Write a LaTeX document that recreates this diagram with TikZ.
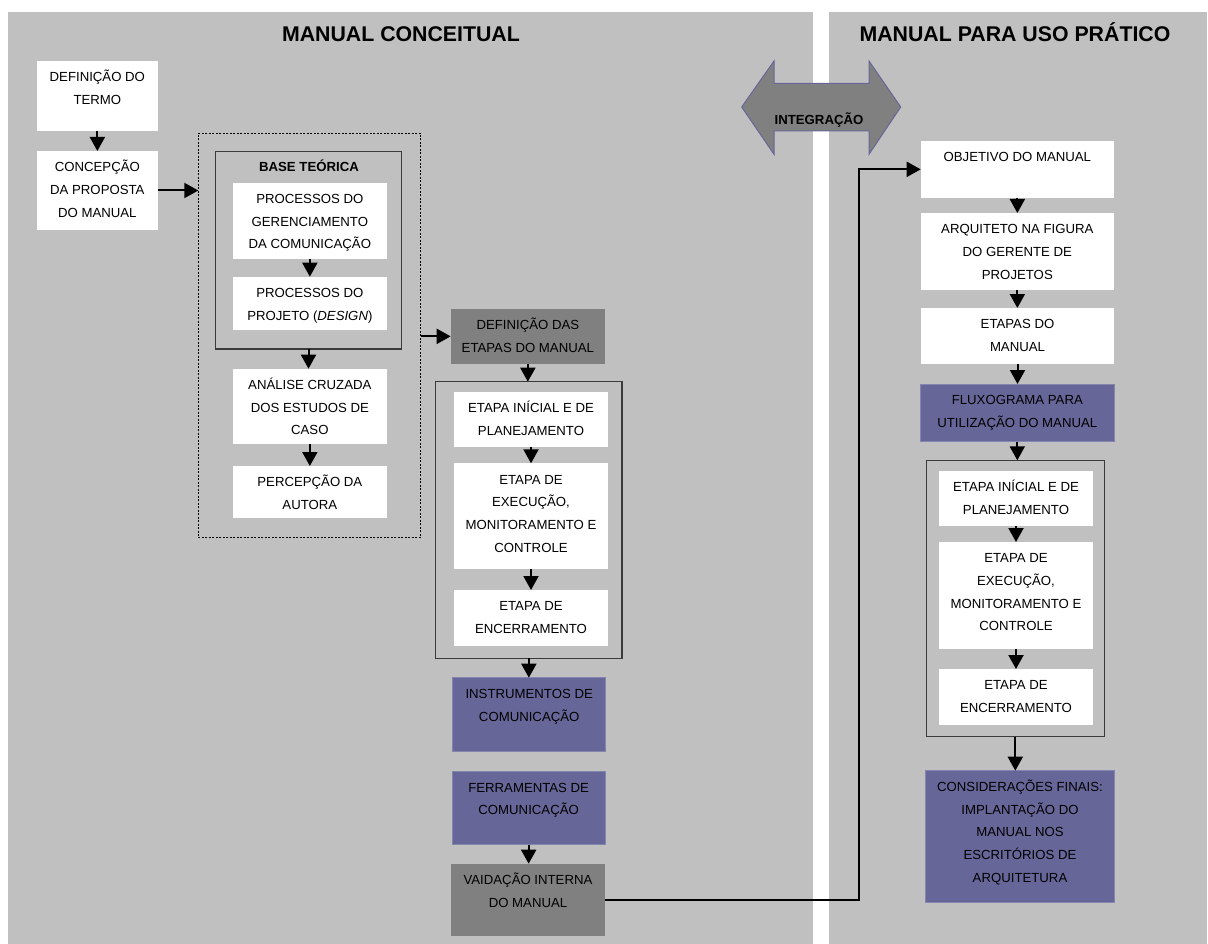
\documentclass[tikz,border=0pt]{standalone}
\usepackage{fontspec}
\setmainfont{Liberation Sans}
\usetikzlibrary{arrows.meta}
\definecolor{panel}{HTML}{C0C0C0}
\definecolor{darkbox}{HTML}{808080}
\definecolor{purplebox}{HTML}{666699}
\definecolor{purpleline}{HTML}{8585B0}
\definecolor{frameline}{HTML}{3A3A3A}
% text block of a box: fixed width and height, lines hung from the top
\newcommand{\bxt}[3]{\parbox[c][#2][t]{#1}{\fontsize{13.2pt}{22.7pt}\selectfont\centering\rule{0pt}{20.7pt}#3\par}}
\begin{document}
\begin{tikzpicture}[x=1pt,y=-1pt,
  every node/.style={inner sep=0pt,outer sep=0pt},
  wbox/.style={fill=white,anchor=north west},
  gbox/.style={fill=darkbox,anchor=north west},
  pbox/.style={fill=purplebox,draw=purpleline,line width=0.8pt,anchor=north west},
  frame/.style={draw=frameline,line width=1.2pt,anchor=north west},
  dotframe/.style={draw=black,line width=0.9pt,dash pattern=on 2pt off 1.5pt,anchor=north west},
  arr/.style={line width=2pt,-{Triangle[width=15pt,length=14pt]}},
  title/.style={font=\fontsize{21.3pt}{24pt}\selectfont\bfseries,anchor=base},
  smallbold/.style={font=\fontsize{13.2pt}{15pt}\selectfont\bfseries,anchor=base}]
\useasboundingbox (0,0) rectangle (1208,944);
\fill[white] (0,0) rectangle (1208,944);

% the two panels
\fill[panel] (7.5,12) rectangle (813,944);
\fill[panel] (829,12) rectangle (1207,944);
\node[title] (tl) at (401,42) {MANUAL CONCEITUAL};
\node[title] (tr) at (1015,42) {MANUAL PARA USO PRÁTICO};

% integration arrow across the gap
\filldraw[fill=darkbox,draw=purplebox,line width=1pt]
  (741.7,107) -- (774,61) -- (774,83.3) -- (869,83.3) -- (869,61) -- (900.7,107)
  -- (869,154.3) -- (869,131) -- (774,131) -- (774,154.3) -- cycle;
\node[smallbold] (integ) at (819,124.7) {INTEGRAÇÃO};

% ---- conceptual manual ----
\node[wbox] (d1) at (36.7,61) {\bxt{121.3pt}{70pt}{DEFINIÇÃO DO\\TERMO}};
\node[wbox] (d2) at (36.7,151) {\bxt{121.3pt}{79pt}{CONCEPÇÃO\\DA PROPOSTA\\DO MANUAL}};

\node[dotframe,minimum width=222.4pt,minimum height=404pt] (dash) at (198.3,133.3) {};
\node[frame,minimum width=186.4pt,minimum height=197.3pt] (base) at (215.3,151.7) {};
\node[smallbold] (basettl) at (309,172) {BASE TEÓRICA};

\node[wbox] (p1) at (232.7,182.7) {\bxt{154.3pt}{76.3pt}{PROCESSOS DO\\GERENCIAMENTO\\DA COMUNICAÇÃO}};
\node[wbox] (p2) at (232.7,276.7) {\bxt{154.3pt}{53.3pt}{PROCESSOS DO\\PROJETO (\textit{DESIGN})}};
\node[wbox] (p3) at (232.7,368.7) {\bxt{154.3pt}{75.3pt}{ANÁLISE CRUZADA\\DOS ESTUDOS DE\\CASO}};
\node[wbox] (p4) at (232.7,466) {\bxt{154.3pt}{52pt}{PERCEPÇÃO DA\\AUTORA}};

\node[gbox] (defe) at (450.7,309) {\bxt{154.3pt}{54.7pt}{DEFINIÇÃO DAS\\ETAPAS DO MANUAL}};
\node[frame,minimum width=186.3pt,minimum height=276.6pt] (cl) at (435.7,381.7) {};
\node[wbox] (e1) at (454,392) {\bxt{154pt}{54.7pt}{ETAPA INÍCIAL E DE\\PLANEJAMENTO}};
\node[wbox] (e2) at (454,463.3) {\bxt{154pt}{106pt}{ETAPA DE\\EXECUÇÃO,\\MONITORAMENTO E\\CONTROLE}};
\node[wbox] (e3) at (454,590) {\bxt{154pt}{55.7pt}{ETAPA DE\\ENCERRAMENTO}};

\node[pbox] (inst) at (452.7,677.7) {\bxt{153pt}{73.6pt}{INSTRUMENTOS DE\\COMUNICAÇÃO}};
\node[pbox] (ferr) at (452.3,771.3) {\bxt{152.7pt}{73.4pt}{FERRAMENTAS DE\\COMUNICAÇÃO}};
\node[gbox] (vaid) at (451,863.7) {\bxt{154pt}{72pt}{VAIDAÇÃO INTERNA\\DO MANUAL}};

% ---- practical manual ----
\node[wbox] (obj) at (920.7,141) {\bxt{193.3pt}{56.7pt}{OBJETIVO DO MANUAL}};
\node[wbox] (arq) at (920.7,213) {\bxt{193.3pt}{76.7pt}{ARQUITETO NA FIGURA\\DO GERENTE DE\\PROJETOS}};
\node[wbox] (etp) at (921,308) {\bxt{193pt}{55.7pt}{ETAPAS DO\\MANUAL}};
\node[pbox] (flux) at (920.3,384) {\bxt{194pt}{57.7pt}{FLUXOGRAMA PARA\\UTILIZAÇÃO DO MANUAL}};
\node[frame,minimum width=178pt,minimum height=276.4pt] (cr) at (926.3,460.3) {};
\node[wbox] (r1) at (939,471) {\bxt{154pt}{54.7pt}{ETAPA INÍCIAL E DE\\PLANEJAMENTO}};
\node[wbox] (r2) at (939,542) {\bxt{154pt}{106.7pt}{ETAPA DE\\EXECUÇÃO,\\MONITORAMENTO E\\CONTROLE}};
\node[wbox] (r3) at (939,669) {\bxt{154pt}{55.7pt}{ETAPA DE\\ENCERRAMENTO}};
\node[pbox] (cons) at (925.7,770.7) {\bxt{188.6pt}{131.6pt}{CONSIDERAÇÕES FINAIS:\\IMPLANTAÇÃO DO\\MANUAL NOS\\ESCRITÓRIOS DE\\ARQUITETURA}};

% ---- connectors ----
\draw[arr] (d1.south) -- (d1.south |- d2.north);
\draw[arr] (d2.east) -- (d2.east -| dash.west);
\draw[arr] (p1.south) -- (p1.south |- p2.north);
\draw[arr] (base.south) -- (base.south |- p3.north);
\draw[arr] (p3.south) -- (p3.south |- p4.north);
\draw[arr] (defe.west -| dash.east) -- (defe.west);
\draw[arr] (defe.south) -- (defe.south |- cl.north);
\draw[arr] (e1.south) -- (e1.south |- e2.north);
\draw[arr] (e2.south) -- (e2.south |- e3.north);
\draw[arr] (cl.south) -- (cl.south |- inst.north);
\draw[arr] (ferr.south) -- (ferr.south |- vaid.north);

\coordinate (bend) at (859,0);
\draw[arr] (vaid.east) -- (vaid.east -| bend) -- (bend |- obj.west) -- (obj.west);

\draw[arr] (obj.south) -- (obj.south |- arq.north);
\draw[arr] (arq.south) -- (arq.south |- etp.north);
\draw[arr] (etp.south) -- (etp.south |- flux.north);
\draw[arr] (flux.south) -- (flux.south |- cr.north);
\draw[arr] (r1.south) -- (r1.south |- r2.north);
\draw[arr] (r2.south) -- (r2.south |- r3.north);
\draw[arr] (cr.south) -- (cr.south |- cons.north);
\end{tikzpicture}
\end{document}
